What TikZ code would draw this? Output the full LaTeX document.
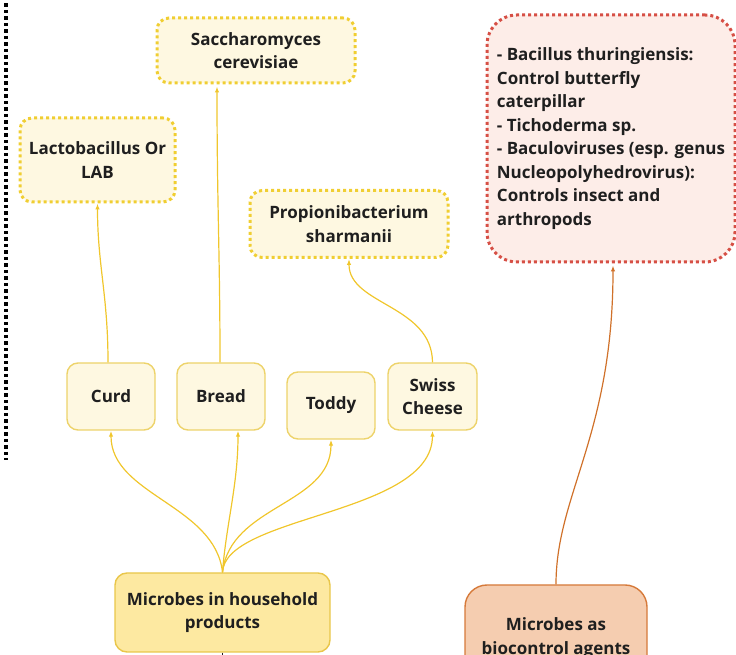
\documentclass[tikz,border=0pt]{standalone}
\usepackage{fontspec}
\setmainfont{Open Sans}
\usetikzlibrary{arrows.meta}
\definecolor{creamfill}{HTML}{FEF8E1}
\definecolor{dotyellow}{HTML}{F0CE32}
\definecolor{foodline}{HTML}{EDD36A}
\definecolor{linkyellow}{HTML}{F0C62C}
\definecolor{housefill}{HTML}{FDE9A1}
\definecolor{houseline}{HTML}{E9C64A}
\definecolor{peachfill}{HTML}{F5CDB0}
\definecolor{peachline}{HTML}{D67A3A}
\definecolor{pinkfill}{HTML}{FDEDE8}
\definecolor{dotred}{HTML}{D64F45}
\definecolor{linkorange}{HTML}{D0712A}
\definecolor{txtdark}{HTML}{1F1F1F}
\tikzstyle{species} = [draw=dotyellow,line width=3pt,dash pattern=on 3pt off 3pt,fill=creamfill,rounded corners=12pt,align=center,inner sep=0pt,text=txtdark]
\tikzstyle{food} = [draw=foodline,line width=1.4pt,fill=creamfill,rounded corners=11pt,align=center,inner sep=0pt,minimum width=88pt,minimum height=67pt,text=txtdark]
\tikzstyle{arrow} = [linkyellow,line width=1.2pt,-{Latex[length=6pt,width=4.5pt]}]

\begin{document}
\begin{tikzpicture}[x=1pt,y=1pt,font=\fontsize{17}{23.5}\selectfont\bfseries]
        \useasboundingbox (0,0) rectangle (736,655);
        \clip (0,0) rectangle (736,655);
        % \draw[step=50,gray,very thin] (0,0) grid (736,655);
        \draw[black,line width=3.5pt,dash pattern=on 3.5pt off 3pt] (6,658) -- (6,195);
        \node[species,minimum width=198pt,minimum height=65pt] (sacch) at (256,604.5) {Saccharomyces\\cerevisiae};
        \node[species,minimum width=155pt,minimum height=84pt] (lacto) at (97.5,495) {Lactobacillus Or\\LAB};
        \node[species,minimum width=198pt,minimum height=67pt] (propi) at (349,431) {Propionibacterium\\sharmanii};
        \node[draw=dotred,line width=3pt,dash pattern=on 3pt off 3pt,fill=pinkfill,rounded corners=30pt,inner sep=0pt,minimum width=248pt,minimum height=247pt,text=txtdark] (agents) at (611,516.5) {\begin{tabular}{@{}l@{}}- Bacillus thuringiensis:\\Control butterfly\\caterpillar\\- Tichoderma sp.\\- Baculoviruses (esp. genus\\Nucleopolyhedrovirus):\\Controls insect and\\arthropods\end{tabular}};
        \node[food] (curd) at (111,258.5) {Curd};
        \node[food] (bread) at (221,258.5) {Bread};
        \node[food] (toddy) at (331,249.5) {Toddy};
        \node[food,minimum width=89pt] (swiss) at (432.5,258.5) {Swiss\\Cheese};
        \node[draw=houseline,line width=1.4pt,fill=housefill,rounded corners=12pt,align=center,inner sep=0pt,minimum width=215pt,minimum height=79pt,text=txtdark] (house) at (222.5,42.5) {Microbes in household\\products};
        \node[draw=peachline,line width=1.4pt,fill=peachfill,rounded corners=22pt,align=center,inner sep=0pt,minimum width=182pt,minimum height=106pt,text=txtdark] (bioc) at (556,17) {Microbes as\\biocontrol agents};
        \coordinate (below) at (222.5,-20);
        \draw[txtdark,line width=0.8pt] (house.south) -- (below);
        \draw[arrow] (house.north) .. controls (215,150) and (111,160) .. (curd.south);
        \draw[arrow] (house.north) .. controls (226,130) and (238,170) .. ([xshift=17pt]bread.south);
        \draw[arrow] (house.north) .. controls (230,150) and (331,150) .. (toddy.south);
        \draw[arrow] (house.north) .. controls (225,140) and (432,140) .. (swiss.south);
        \draw[arrow] ([xshift=-3pt]curd.north) .. controls (108,360) and (97.5,390) .. (lacto.south);
        \draw[arrow] ([xshift=-1pt]bread.north) .. controls (220,400) and (217,450) .. ([xshift=-39pt,yshift=-2pt]sacch.south);
        \draw[arrow] (swiss.north) .. controls (432,350) and (349,350) .. (propi.south);
        \draw[linkorange,line width=1.2pt,-{Latex[length=6pt,width=4.5pt]}] (bioc.north) .. controls (556,160) and (613,220) .. ([xshift=2pt,yshift=-2pt]agents.south);
\end{tikzpicture}
\end{document}
